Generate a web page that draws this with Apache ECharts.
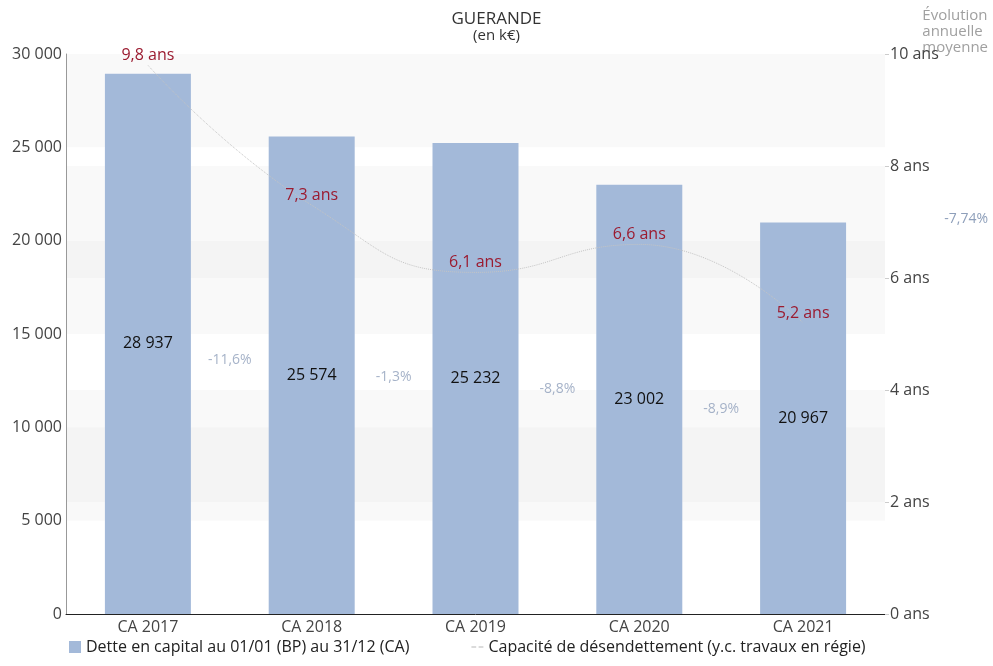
<!DOCTYPE html>
<html>
<head>
<meta charset="utf-8">
<script src="https://cdn.jsdelivr.net/npm/echarts@6/dist/echarts.min.js"></script>
<style>
html,body{margin:0;padding:0;background:#fff;}
#c{width:993px;height:666px;}
</style>
</head>
<body>
<div id="c"></div>
<script>
var categories = ["CA 2017", "CA 2018", "CA 2019", "CA 2020", "CA 2021"];
var detteValues = [28937, 25574, 25232, 23002, 20967];
var capaciteValues = [9.8, 7.3, 6.1, 6.6, 5.2];
var evolutionLabels = ["-11,6%", "-1,3%", "-8,8%", "-8,9%"];
var evolutionMoyenne = "-7,74%";

var FONT = "'Open Sans', 'Noto Sans', sans-serif";

function fmtThousands(v) {
  return String(Math.round(v)).replace(/\B(?=(\d{3})+(?!\d))/g, " ");
}

// evolution labels placed between bars, at the mean of bar half-heights
var evoPoints = evolutionLabels.map(function (lab, i) {
  return { value: [i + 1, (detteValues[i] + detteValues[i + 1]) / 4], label: lab };
});

var chart = echarts.init(document.getElementById('c'), null, { renderer: 'canvas' });
chart.setOption({
  animation: false,
  textStyle: { fontFamily: FONT },
  title: {
    text: 'GUERANDE',
    subtext: '(en k€)',
    left: 'center',
    top: 6,
    itemGap: 0,
    textStyle: { fontFamily: FONT, fontSize: 17, fontWeight: 'normal', color: '#333' },
    subtextStyle: { fontFamily: FONT, fontSize: 15, color: '#333' }
  },
  grid: { left: 66, right: 108, top: 54, bottom: 52, containLabel: false },
  legend: {
    bottom: 6,
    left: 64,
    itemGap: 62,
    itemWidth: 12,
    itemHeight: 12,
    textStyle: { fontFamily: FONT, fontSize: 16, color: '#222' },
    data: [
      { name: 'Dette en capital au 01/01 (BP) au 31/12 (CA)', icon: 'rect' },
      { name: 'Capacité de désendettement (y.c. travaux en régie)',
        icon: 'path://M0,5 L4,5 L4,6 L0,6 Z M6,5 L10,5 L10,6 L6,6 Z',
        itemStyle: { color: '#b8b8b8', opacity: 1 } }
    ]
  },
  xAxis: [
    {
      type: 'category',
      data: categories,
      axisLine: { show: true, lineStyle: { color: '#222', width: 1 } },
      axisTick: { show: false },
      axisLabel: { fontFamily: FONT, fontSize: 16, color: '#444', margin: 5 }
    },
    {
      type: 'value',
      min: 0, max: 5,
      show: false
    }
  ],
  yAxis: [
    {
      type: 'value',
      min: 0, max: 30000, interval: 5000,
      axisLine: { show: true, lineStyle: { color: '#999', width: 1 } },
      axisTick: { show: false },
      splitLine: { show: false },
      splitArea: { show: true, areaStyle: { color: ['rgba(0,0,0,0)', 'rgba(0,0,0,0.022)'] } },
      axisLabel: {
        fontFamily: FONT, fontSize: 16, color: '#444', margin: 4,
        formatter: function (v) { return fmtThousands(v); }
      }
    },
    {
      type: 'value',
      min: 0, max: 10, interval: 2,
      position: 'right',
      axisLine: { show: false },
      axisTick: { show: true, length: 4, lineStyle: { color: '#ccc' } },
      splitLine: { show: false },
      splitArea: { show: true, areaStyle: { color: ['rgba(0,0,0,0)', 'rgba(0,0,0,0.022)'] } },
      axisLabel: {
        fontFamily: FONT, fontSize: 16, color: '#444', margin: 5,
        formatter: function (v) { return v + ' ans'; }
      }
    }
  ],
  series: [
    {
      name: 'Dette en capital au 01/01 (BP) au 31/12 (CA)',
      type: 'bar',
      data: detteValues,
      barWidth: '52.5%',
      itemStyle: { color: '#a3b9d9' },
      label: {
        show: true,
        position: 'inside',
        fontFamily: FONT, fontSize: 16, color: '#111',
        formatter: function (p) { return fmtThousands(p.value); }
      }
    },
    {
      name: 'Capacité de désendettement (y.c. travaux en régie)',
      type: 'line',
      yAxisIndex: 1,
      data: capaciteValues,
      smooth: true,
      showSymbol: true,
      symbol: 'circle',
      symbolSize: 1,
      lineStyle: { color: '#c4c4c4', width: 1, type: 'dotted' },
      itemStyle: { color: 'rgba(0,0,0,0)' },
      label: {
        show: true,
        position: 'top',
        distance: 1,
        fontFamily: FONT, fontSize: 16, color: '#9b1b30',
        formatter: function (p) { return String(p.value).replace('.', ',') + ' ans'; }
      },
      labelLayout: { hideOverlap: false },
      z: 5
    },
    {
      name: 'evo',
      type: 'scatter',
      xAxisIndex: 1,
      yAxisIndex: 0,
      data: evoPoints,
      symbolSize: 1,
      itemStyle: { color: 'rgba(0,0,0,0)' },
      label: {
        show: true,
        position: 'inside',
        fontFamily: FONT, fontSize: 14, color: '#8e9fba',
        formatter: function (p) { return p.data.label; }
      },
      silent: true,
      z: 6
    }
  ],
  graphic: [
    {
      type: 'text',
      right: 5,
      top: 8,
      style: {
        text: 'Évolution\nannuelle\nmoyenne',
        font: '15px ' + FONT,
        fill: '#a0a0a0',
        align: 'right',
        lineHeight: 16
      }
    },
    {
      type: 'text',
      right: 5,
      top: 212,
      style: {
        text: evolutionMoyenne,
        font: '14px ' + FONT,
        fill: '#8e9fba',
        align: 'right'
      }
    }
  ]
});
</script>
</body>
</html>
